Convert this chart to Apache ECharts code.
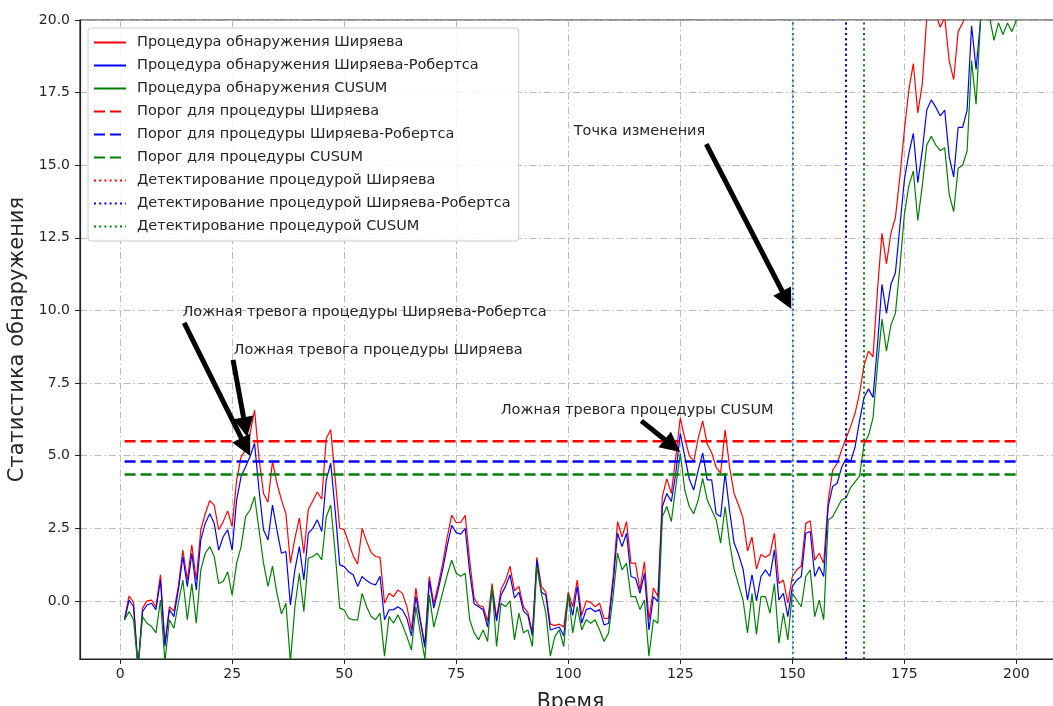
<!DOCTYPE html>
<html>
<head>
<meta charset="utf-8">
<script src="https://cdn.jsdelivr.net/npm/echarts@6/dist/echarts.min.js"></script>
<style>
  html, body { margin: 0; padding: 0; background: #fff; }
  #chart { width: 1053px; height: 706px; }
</style>
</head>
<body>
<div id="chart"></div>
<script>
// Detection statistics per time step (t = 1..200)
const shiryaev = [
  -0.6, 0.17, -0.05, -2.3, -0.25, 0.0, 0.03, -0.2, 0.9, -1.45,
  -0.2, -0.35, 0.5, 1.75, 0.72, 1.93, 0.72, 2.45, 3.0, 3.45,
  3.3, 2.45, 2.73, 3.1, 2.56, 4.16, 4.97, 5.2, 5.77, 6.57,
  4.9, 3.7, 3.4, 4.8, 4.05, 3.48, 3.0, 1.3, 2.15, 2.85,
  1.64, 3.15, 3.45, 3.75, 3.5, 5.6, 5.89, 4.2, 2.5, 2.45,
  2.0, 1.55, 1.27, 2.5, 2.05, 1.67, 1.53, 1.5, -0.08, 0.26,
  0.15, 0.38, 0.26, -0.2, -1.0, 0.44, -0.65, -1.5, 0.84, -0.1,
  0.55, 1.3, 2.2, 2.95, 2.7, 2.7, 2.95, 1.4, 0.1, -0.15,
  -0.2, -0.7, 0.6, -0.6, 0.4, 0.7, 1.2, 0.35, 0.5, -0.2,
  -0.4, -1.1, 1.5, 0.5, 0.3, -0.8, -0.85, -0.8, -0.9, 0.3,
  -0.2, 0.72, -0.5, 0.0, -0.05, -0.2, -0.08, -0.6, -0.6, 0.8,
  2.73, 2.2, 2.73, 1.3, 1.3, 0.38, 1.35, -0.65, 0.44, 0.15,
  3.6, 4.2, 3.7, 4.97, 6.3, 5.6, 5.0, 4.8, 5.6, 6.2,
  5.4, 5.1, 4.6, 4.4, 5.89, 4.6, 3.7, 3.3, 2.85, 1.72,
  2.2, 1.1, 1.6, 1.5, 1.6, 2.33, 0.6, 0.72, -0.08, 0.84,
  1.07, 1.2, 2.67, 2.76, 1.4, 1.64, 1.3, 3.45, 4.5, 4.74,
  5.2, 5.6, 6.0, 6.46, 7.15, 8.1, 8.6, 8.4, 10.7, 12.66,
  11.6, 12.66, 13.2, 14.6, 16.2, 17.6, 18.5, 16.8, 17.8, 20.1,
  20.4, 20.2, 19.75, 20.1, 18.6, 17.95, 19.6, 19.9, 20.3, 22.5,
  21.5, 23.0, 23.5, 23.2, 22.8, 23.4, 23.1, 23.4, 23.2, 23.5
];
const roberts = [
  -0.65, 0.03, -0.2, -2.3, -0.37, -0.14, -0.08, -0.3, 0.72, -1.57,
  -0.3, -0.54, 0.38, 1.53, 0.49, 1.64, 0.38, 2.1, 2.67, 3.0,
  2.67, 1.75, 2.21, 2.45, 1.75, 3.48, 4.28, 4.62, 4.97, 5.43,
  3.82, 2.45, 2.1, 3.3, 2.44, 1.64, 1.7, -0.14, 1.07, 1.87,
  0.72, 2.33, 2.5, 2.79, 2.39, 4.17, 4.74, 3.1, 1.24, 1.18,
  1.0, 0.9, 0.5, 0.84, 0.7, 0.6, 0.55, 0.85, -0.65, -0.31,
  -0.3, -0.2, -0.31, -0.6, -1.2, 0.15, -0.7, -1.6, 0.7, -0.25,
  0.4, 1.1, 1.9, 2.6, 2.35, 2.3, 2.5, 1.0, -0.1, -0.2,
  -0.3, -0.9, 0.4, -0.7, 0.2, 0.5, 0.9, 0.1, 0.3, -0.35,
  -0.5, -1.2, 1.4, 0.3, 0.2, -1.0, -0.95, -0.9, -1.2, 0.2,
  -0.5, 0.5, -0.77, -0.3, -0.25, -0.37, -0.3, -0.83, -0.77, 0.6,
  2.33, 1.87, 2.33, 0.84, 0.78, 0.26, 0.95, -1.0, 0.15, -0.02,
  3.25, 3.7, 3.42, 4.4, 5.77, 4.97, 4.2, 3.82, 4.5, 5.1,
  4.17, 4.17, 3.0, 2.9, 4.4, 3.1, 2.0, 1.6, 1.1, 0.03,
  0.9, 0.0, 0.84, 1.07, 0.84, 1.76, 0.03, 0.26, -0.54, 0.49,
  0.72, 0.84, 2.33, 2.39, 0.84, 1.18, 0.84, 3.25, 3.94, 4.05,
  4.6, 4.9, 4.8, 5.3, 6.2, 7.0, 7.3, 7.0, 8.8, 10.9,
  9.9, 10.9, 11.3, 12.9, 14.5, 15.4, 16.1, 14.4, 15.5, 16.9,
  17.25, 17.0, 16.7, 16.9, 15.3, 14.6, 16.3, 16.3, 16.9, 19.8,
  18.3, 20.0, 21.0, 20.8, 20.3, 20.9, 20.6, 20.9, 20.7, 21.0
];
const cusum = [
  -0.65, -0.37, -0.65, -2.3, -0.54, -0.77, -0.88, -1.1, 0.03, -2.1,
  -0.65, -0.94, -0.08, 0.72, -0.65, 0.6, -0.77, 1.07, 1.64, 1.87,
  1.53, 0.6, 0.67, 1.0, 0.2, 1.3, 1.87, 2.9, 3.13, 3.6,
  2.45, 1.3, 0.5, 1.2, 0.26, -0.45, -0.08, -2.1, -0.2, 0.95,
  -0.37, 1.47, 1.53, 1.64, 1.41, 2.9, 3.3, 1.64, -0.25, -0.31,
  -0.6, -0.65, -0.65, 0.26, -0.2, -0.54, -0.65, -0.42, -1.9, -0.54,
  -0.77, -0.48, -0.83, -1.23, -1.69, -0.2, -1.1, -2.0, 0.2, -0.9,
  -0.3, 0.3, 0.9, 1.4, 0.95, 0.85, 0.95, -0.65, -1.1, -1.34,
  -1.0, -1.4, 0.5, -1.57, -0.08, -0.2, 0.0, -1.34, -0.42, -1.1,
  -1.0, -1.57, 1.18, 0.26, -0.42, -1.9, -1.23, -1.0, -1.57, 0.26,
  -1.1, -0.2, -1.0, -0.65, -0.77, -0.65, -1.0, -1.4, -1.1, 0.15,
  1.64, 1.07, 1.3, 0.15, 0.15, -0.3, 0.03, -1.9, -0.65, -0.77,
  2.9, 3.25, 2.73, 3.94, 5.08, 3.82, 3.25, 3.0, 3.48, 4.22,
  3.48, 3.13, 2.79, 1.99, 3.25, 2.0, 1.1, 0.55, 0.03, -1.1,
  0.26, -1.15, 0.15, 0.15, -0.42, 0.6, -1.46, -0.42, -1.34, 0.26,
  0.03, -0.2, 0.84, 1.07, -0.54, 0.03, -0.65, 2.79, 2.9, 3.2,
  3.48, 3.55, 3.9, 4.1, 4.3, 5.4, 5.7, 6.3, 8.1, 9.7,
  8.6, 9.5, 9.9, 11.5, 13.3, 14.3, 14.8, 13.1, 14.3, 15.7,
  16.0, 15.7, 15.5, 15.6, 14.0, 13.4, 14.9, 15.0, 15.5, 18.6,
  17.1, 20.0, 20.6, 20.1, 19.3, 19.9, 19.5, 19.9, 19.6, 20.0
];

// Alarm thresholds
const thresholdShiryaev = 5.5;
const thresholdRoberts = 4.8;
const thresholdCusum = 4.35;

// Detection moments and the true change point
const detectShiryaev = 162;
const detectRoberts = 162;
const detectCusum = 166;
const changePoint = 150;

// Tick values
const xTicks = [0, 25, 50, 75, 100, 125, 150, 175, 200];
const yTicks = [0, 2.5, 5, 7.5, 10, 12.5, 15, 17.5, 20];

// Legend labels
const names = [
  'Процедура обнаружения Ширяева',
  'Процедура обнаружения Ширяева-Робертса',
  'Процедура обнаружения CUSUM',
  'Порог для процедуры Ширяева',
  'Порог для процедуры Ширяева-Робертса',
  'Порог для процедуры CUSUM',
  'Детектирование процедурой Ширяева',
  'Детектирование процедурой Ширяева-Робертса',
  'Детектирование процедурой CUSUM'
];

// Annotations: text anchor (left edge, middle), arrow tail and arrow-head centre, in data units
const annotations = [
  { text: 'Ложная тревога процедуры Ширяева-Робертса', at: [13.8, 9.95], tail: [14.3, 9.57], head: [28.03, 5.3] },
  { text: 'Ложная тревога процедуры Ширяева', at: [25.2, 8.64], tail: [25.2, 8.3], head: [27.95, 5.98] },
  { text: 'Ложная тревога процедуры CUSUM', at: [84.8, 6.57], tail: [116.3, 6.2], head: [123.25, 5.34] },
  { text: 'Точка изменения', at: [101.1, 16.18], tail: [130.8, 15.73], head: [148.75, 10.36] }
];

const FONT = 'DejaVu Sans';
const TEXT = '#262626';
const RED = '#ff0000', BLUE = '#0000ff', GREEN = '#008000';
const time = shiryaev.map((_, i) => i + 1);
const pairs = arr => arr.map((v, i) => [time[i], v]);
const flat = v => [[time[0], v], [time[time.length - 1], v]];

const curve = (name, arr, color) => ({
  name, type: 'line', data: pairs(arr), symbol: 'none', color,
  lineStyle: { color, width: 1.2 }, z: 2
});
const thresholdLine = (name, v, color) => ({
  name, type: 'line', data: flat(v), symbol: 'none', color,
  lineStyle: { color, width: 2.5, type: [11, 5] }, z: 3
});
const dotStyle = color => ({ color, width: 2, type: [2, 3.2] });
const verticalLine = (name, x, color) => ({
  name, type: 'line', data: [], symbol: 'none', color,
  lineStyle: dotStyle(color), z: 4,
  markLine: {
    silent: true, symbol: ['none', 'none'], label: { show: false },
    lineStyle: dotStyle(color), data: [{ xAxis: x }]
  }
});

const chart = echarts.init(document.getElementById('chart'), null, { renderer: 'canvas' });
chart.setOption({
  animation: false,
  backgroundColor: '#fff',
  textStyle: { fontFamily: FONT },
  grid: {
    left: 80, right: -8, top: 20, bottom: 47,
    outerBoundsMode: 'none', containLabel: false,
    show: true, borderColor: '#222', borderWidth: 1.2, backgroundColor: 'transparent'
  },
  legend: {
    data: names, orient: 'vertical', left: 88, top: 28,
    itemWidth: 32, itemHeight: 14, itemGap: 8,
    padding: [7, 8, 7, 5],
    itemStyle: { opacity: 0 },
    backgroundColor: 'rgba(255,255,255,0.85)', borderColor: '#cccccc', borderWidth: 1, borderRadius: 3,
    textStyle: { fontFamily: FONT, fontSize: 14.5, color: TEXT, lineHeight: 14, padding: [0, 0, 0, 6] }
  },
  xAxis: {
    type: 'value', min: -8.95, max: 209.95,
    name: 'Время', nameLocation: 'middle', nameGap: 33,
    nameTextStyle: { fontFamily: FONT, fontSize: 20.5, color: TEXT },
    axisLine: { show: true, onZero: false, lineStyle: { color: '#222', width: 1.2 } },
    axisTick: { show: true, customValues: xTicks, length: 5, lineStyle: { color: '#222' } },
    axisLabel: { customValues: xTicks, fontFamily: FONT, fontSize: 14, color: TEXT, margin: 8 },
    splitLine: { show: true, lineStyle: { color: '#b4b4b4', width: 0.9, type: [7, 3, 1.5, 3] } }
  },
  yAxis: {
    type: 'value', min: -2, max: 20,
    name: 'Статистика обнаружения', nameLocation: 'middle', nameGap: 48,
    nameTextStyle: { fontFamily: FONT, fontSize: 21, color: TEXT },
    axisLine: { show: true, onZero: false, lineStyle: { color: '#222', width: 1.2 } },
    axisTick: { show: true, customValues: yTicks, length: 5, lineStyle: { color: '#222' } },
    axisLabel: { customValues: yTicks, fontFamily: FONT, fontSize: 14, color: TEXT, margin: 10,
                 formatter: v => v.toFixed(1) },
    splitLine: { show: true, lineStyle: { color: '#b4b4b4', width: 0.9, type: [7, 3, 1.5, 3] } }
  },
  series: [
    curve(names[0], shiryaev, RED),
    curve(names[1], roberts, BLUE),
    curve(names[2], cusum, GREEN),
    thresholdLine(names[3], thresholdShiryaev, RED),
    thresholdLine(names[4], thresholdRoberts, BLUE),
    thresholdLine(names[5], thresholdCusum, GREEN),
    verticalLine(names[6], detectShiryaev, RED),
    verticalLine(names[7], detectRoberts, BLUE),
    verticalLine(names[8], detectCusum, GREEN),
    verticalLine('Точка изменения', changePoint, '#1f77b4'),
    {
      name: 'arrows', type: 'lines', coordinateSystem: 'cartesian2d', z: 6, silent: true,
      symbol: ['none', 'triangle'], symbolSize: [17, 20],
      itemStyle: { color: '#000' },
      lineStyle: { color: '#000', width: 5, opacity: 1 },
      data: annotations.map(a => ({ coords: [a.tail, a.head] }))
    },
    {
      name: 'notes', type: 'scatter', z: 7, silent: true, symbolSize: 1,
      itemStyle: { color: 'rgba(0,0,0,0)', opacity: 1 },
      label: { show: true, position: 'right', distance: 0, formatter: '{b}',
               fontFamily: FONT, fontSize: 14.5, color: TEXT },
      data: annotations.map(a => ({ name: a.text, value: a.at }))
    }
  ]
});
</script>
</body>
</html>
